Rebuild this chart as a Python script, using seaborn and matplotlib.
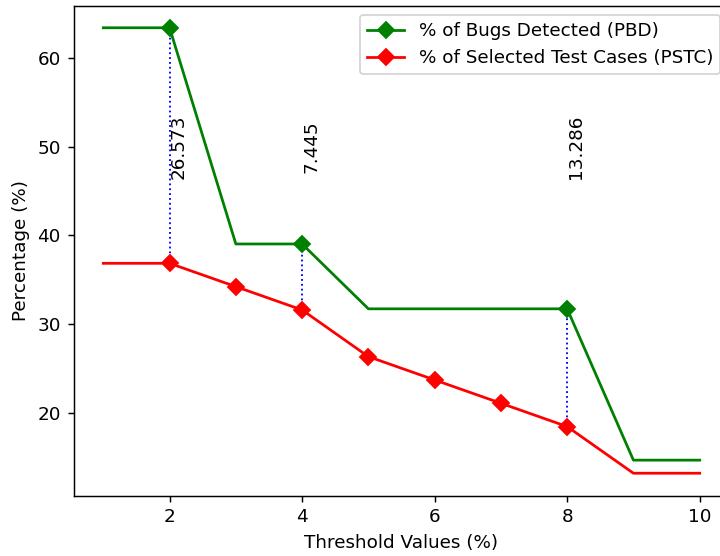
import numpy as np
import matplotlib
matplotlib.use("Agg")
import matplotlib.pyplot as plt
import seaborn as sns

# threshold values and the two series
thresholds = [1, 2, 3, 4, 5, 6, 7, 8, 9, 10]
pbd = [63.415, 63.415, 39.024, 39.024, 31.707, 31.707, 31.707, 31.707, 14.634, 14.634]
pstc = [36.842, 36.842, 34.211, 31.579, 26.316, 23.684, 21.053, 18.421, 13.158, 13.158]
# thresholds where the gap is marked
gap_x = [2, 4, 8]
gap_labels = ["26.573", "7.445", "13.286"]

dpi = 132
fig = plt.figure(figsize=(720 / dpi, 556 / dpi), dpi=dpi)
ax = fig.add_axes([73.5 / 720, 1 - 495.5 / 556, 656 / 720, 490 / 556])

gap_idx = [thresholds.index(x) for x in gap_x]
sns.lineplot(x=thresholds, y=pbd, color="green", marker="D", markevery=gap_idx,
             markeredgecolor="green", markeredgewidth=1, linewidth=1.5,
             label="% of Bugs Detected (PBD)", ax=ax, zorder=3)
sns.lineplot(x=thresholds, y=pstc, color="red", marker="D", markevery=list(range(1, 8)),
             markeredgecolor="red", markeredgewidth=1, linewidth=1.5,
             label="% of Selected Test Cases (PSTC)", ax=ax, zorder=3)

for i, x in enumerate(gap_x):
    k = thresholds.index(x)
    ax.vlines(x, pstc[k], pbd[k], colors="blue", linestyles=":", linewidth=1, zorder=2)
    ax.text(x, 50, gap_labels[i], rotation=90, ha="left", va="center", fontsize=10)

ax.set_xlabel("Threshold Values (%)")
ax.set_ylabel("Percentage (%)")
ax.legend(loc="upper right")

fig.savefig("out.png", dpi=dpi)
